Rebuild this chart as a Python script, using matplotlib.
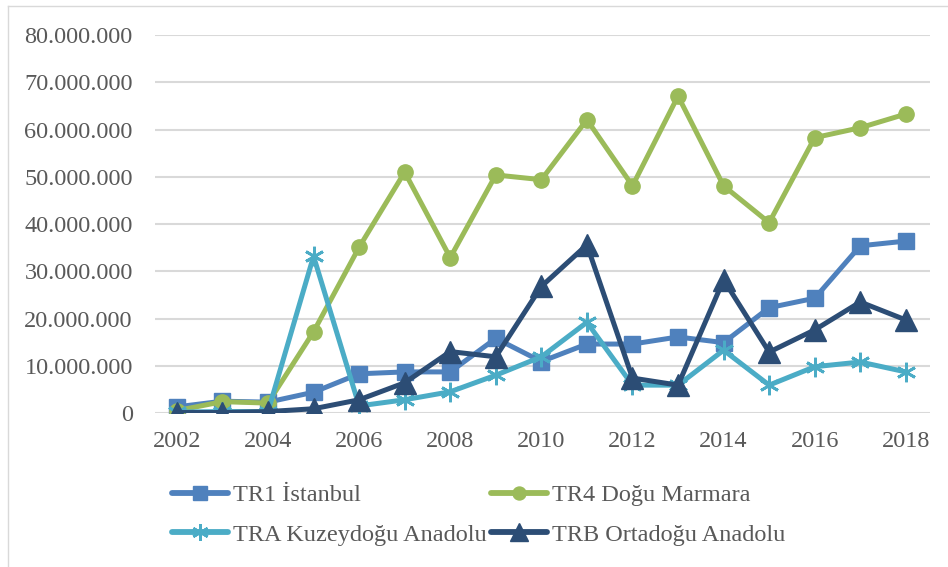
"""Line chart of four TR regions, 2002-2018."""

import matplotlib.pyplot as plt
from matplotlib.lines import Line2D
from matplotlib.ticker import FuncFormatter

YEARS = list(range(2002, 2019))
TR1 = [1.3, 2.5, 2.3, 4.4, 8.3, 8.7, 8.7, 15.8, 10.9, 14.6, 14.6, 16.1, 14.9,
       22.3, 24.3, 35.4, 36.4]
TR4 = [0.5, 2.4, 2.1, 17.2, 35.1, 51.0, 32.9, 50.4, 49.4, 62.1, 48.1, 67.1,
       48.1, 40.3, 58.3, 60.4, 63.3]
TRA = [0.2, 0.3, 0.3, 33.2, 1.5, 2.8, 4.5, 8.0, 11.9, 19.2, 5.9, 5.9, 13.3,
       5.9, 9.8, 10.8, 8.7]
TRB = [0.1, 0.1, 0.3, 0.9, 2.8, 6.4, 13.0, 11.9, 26.8, 35.6, 7.4, 5.9, 28.2,
       12.9, 17.6, 23.5, 19.7]
LABELS = ["TR1 İstanbul", "TR4 Doğu Marmara",
          "TRA Kuzeydoğu Anadolu", "TRB Ortadoğu Anadolu"]
YTICKS = list(range(0, 80_000_001, 10_000_000))
XTICKS = list(range(2002, 2019, 2))

plt.rcParams["font.family"] = ["Liberation Serif", "DejaVu Serif"]
TEXT = "#595959"
FS = 17.5

fig = plt.figure(figsize=(9.48, 5.67), dpi=100)
ax = fig.add_axes([0.1635, 0.2716, 0.8175, 0.6664])

styles = [
    dict(color="#4F81BD", marker="s", markersize=11.5),
    dict(color="#9BBB59", marker="o", markersize=11),
    dict(color="#4BACC6", marker=(6, 2, 0), markersize=14, markeredgewidth=2),
    dict(color="#2C4D75", marker="^", markersize=15.5),
]
lines = []
for series, label, st in zip([TR1, TR4, TRA, TRB], LABELS, styles):
    (ln,) = ax.plot(YEARS, [v * 1e6 for v in series], linewidth=3.6,
                    label=label, solid_capstyle="round",
                    solid_joinstyle="round", **st)
    lines.append(ln)

ax.set_xlim(2001.52, 2018.53)
ax.set_ylim(0, 80_000_000)
ax.set_yticks(YTICKS)
ax.set_xticks(XTICKS)
ax.yaxis.set_major_formatter(
    FuncFormatter(lambda v, _: f"{int(v):,}".replace(",", ".")))
ax.grid(axis="y", color="#D9D9D9", linewidth=1.5)
ax.set_axisbelow(True)
for side in ax.spines.values():
    side.set_visible(False)
ax.tick_params(length=0, labelsize=FS, labelcolor=TEXT)
ax.tick_params(axis="y", pad=16)
ax.tick_params(axis="x", pad=13)

# legend fills column-wise, so reorder to get TR1/TR4 on the first row
order = [0, 2, 1, 3]
leg_handles = []
for i in order:
    ln = lines[i]
    ms = ln.get_markersize() * 0.85
    leg_handles.append(Line2D([], [], color=ln.get_color(), linewidth=4.2,
                              marker=ln.get_marker(), markersize=ms,
                              markeredgewidth=ln.get_markeredgewidth(),
                              solid_capstyle="round"))
fig.legend(leg_handles, [LABELS[i] for i in order], loc="upper left",
           bbox_to_anchor=(0.1814, 0.146), ncol=2, frameon=False,
           fontsize=FS, labelcolor=TEXT, handlelength=2.3, borderpad=0,
           borderaxespad=0, handletextpad=0.2, columnspacing=0.2,
           labelspacing=0.72)

# light frame lines (top and left) like the source image
fig.add_artist(Line2D([0.0085, 1.0], [0.99, 0.99], transform=fig.transFigure,
                      color="#D9D9D9", linewidth=1))
fig.add_artist(Line2D([0.0085, 0.0085], [0.0, 0.99],
                      transform=fig.transFigure, color="#D9D9D9",
                      linewidth=1))

fig.savefig("out.png", dpi=100)
